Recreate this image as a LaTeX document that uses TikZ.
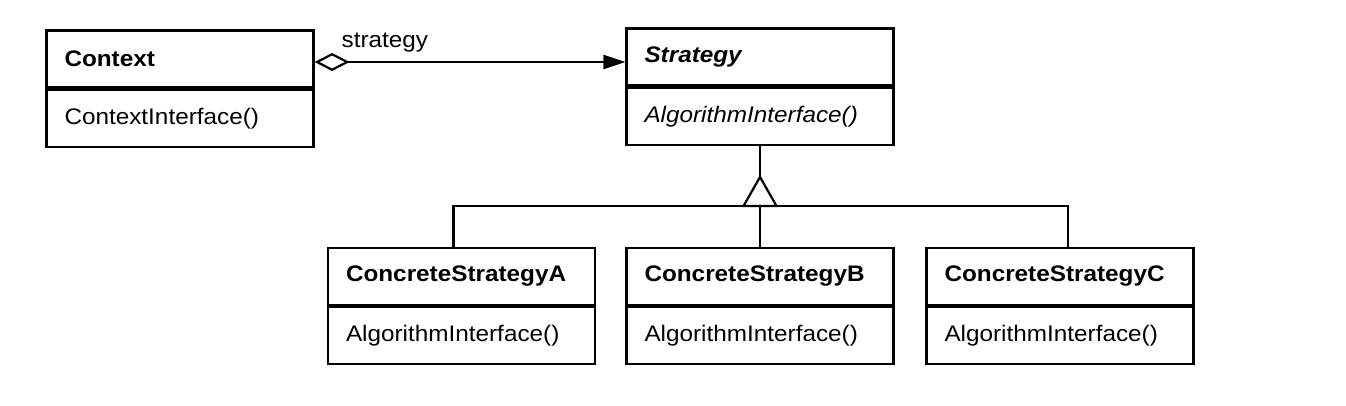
\documentclass[tikz,border=0pt]{standalone}
\usepackage{fontspec}
\setmainfont{Liberation Sans}[FakeStretch=1.08]
\usetikzlibrary{positioning,arrows.meta}

\newcommand\umlsize{\fontsize{22.5}{27}\selectfont}

\tikzset{
  cname/.style={draw, line width=2.2pt, text width=231pt, inner xsep=18pt,
    minimum height=57pt, align=left, font=\umlsize\bfseries},
  cops/.style={draw, line width=2.2pt, text width=231pt, inner xsep=18pt,
    minimum height=57pt, align=left, font=\umlsize},
  link/.style={line width=2.2pt}
}

\begin{document}
\begin{tikzpicture}[x=1pt, y=1pt]
    \useasboundingbox (0,0) rectangle (1346,405);

    % Context and Strategy
    \node[cname] (ctx) at (180,346) {Context};
    \node[cops, below=0pt of ctx] (ctxops) {ContextInterface()};
    \node[cname, font=\umlsize\bfseries\itshape] (strat) at (760,348) {Strategy};
    \node[cops, below=0pt of strat, font=\umlsize\itshape] (stratops) {AlgorithmInterface()};

    \draw[link, {Diamond[open, length=35pt, width=18pt]}-{Triangle[length=22pt, width=14pt]}]
        ([yshift=-3pt]ctx.east) -- ([yshift=-3pt]ctx.east -| strat.west)
        node[pos=0, anchor=base west, xshift=26pt, yshift=14pt, inner sep=0pt, font=\umlsize] (lbl) {strategy};

    % concrete strategies
    \node[cname] (csa) at (461.5,128.5) {ConcreteStrategyA};
    \node[cops, below=0pt of csa] (csaops) {AlgorithmInterface()};
    \node[cname] (csb) at (760,128.5) {ConcreteStrategyB};
    \node[cops, below=0pt of csb] (csbops) {AlgorithmInterface()};
    \node[cname] (csc) at (1060,128.5) {ConcreteStrategyC};
    \node[cops, below=0pt of csc] (cscops) {AlgorithmInterface()};

    % inheritance
    \coordinate (apex) at (stratops.south |- 0,228);
    \coordinate (bar) at (stratops.south |- 0,199);
    \draw[link] (stratops.south) -- (apex);
    \draw[link] (apex) -- ++(-16.5,-29) -- ++(33,0) -- cycle;
    \draw[link] ([xshift=-8pt]csa.north) |- (bar) -| ([xshift=8pt]csc.north);
    \draw[link] (bar) -- (csb.north);
\end{tikzpicture}
\end{document}
